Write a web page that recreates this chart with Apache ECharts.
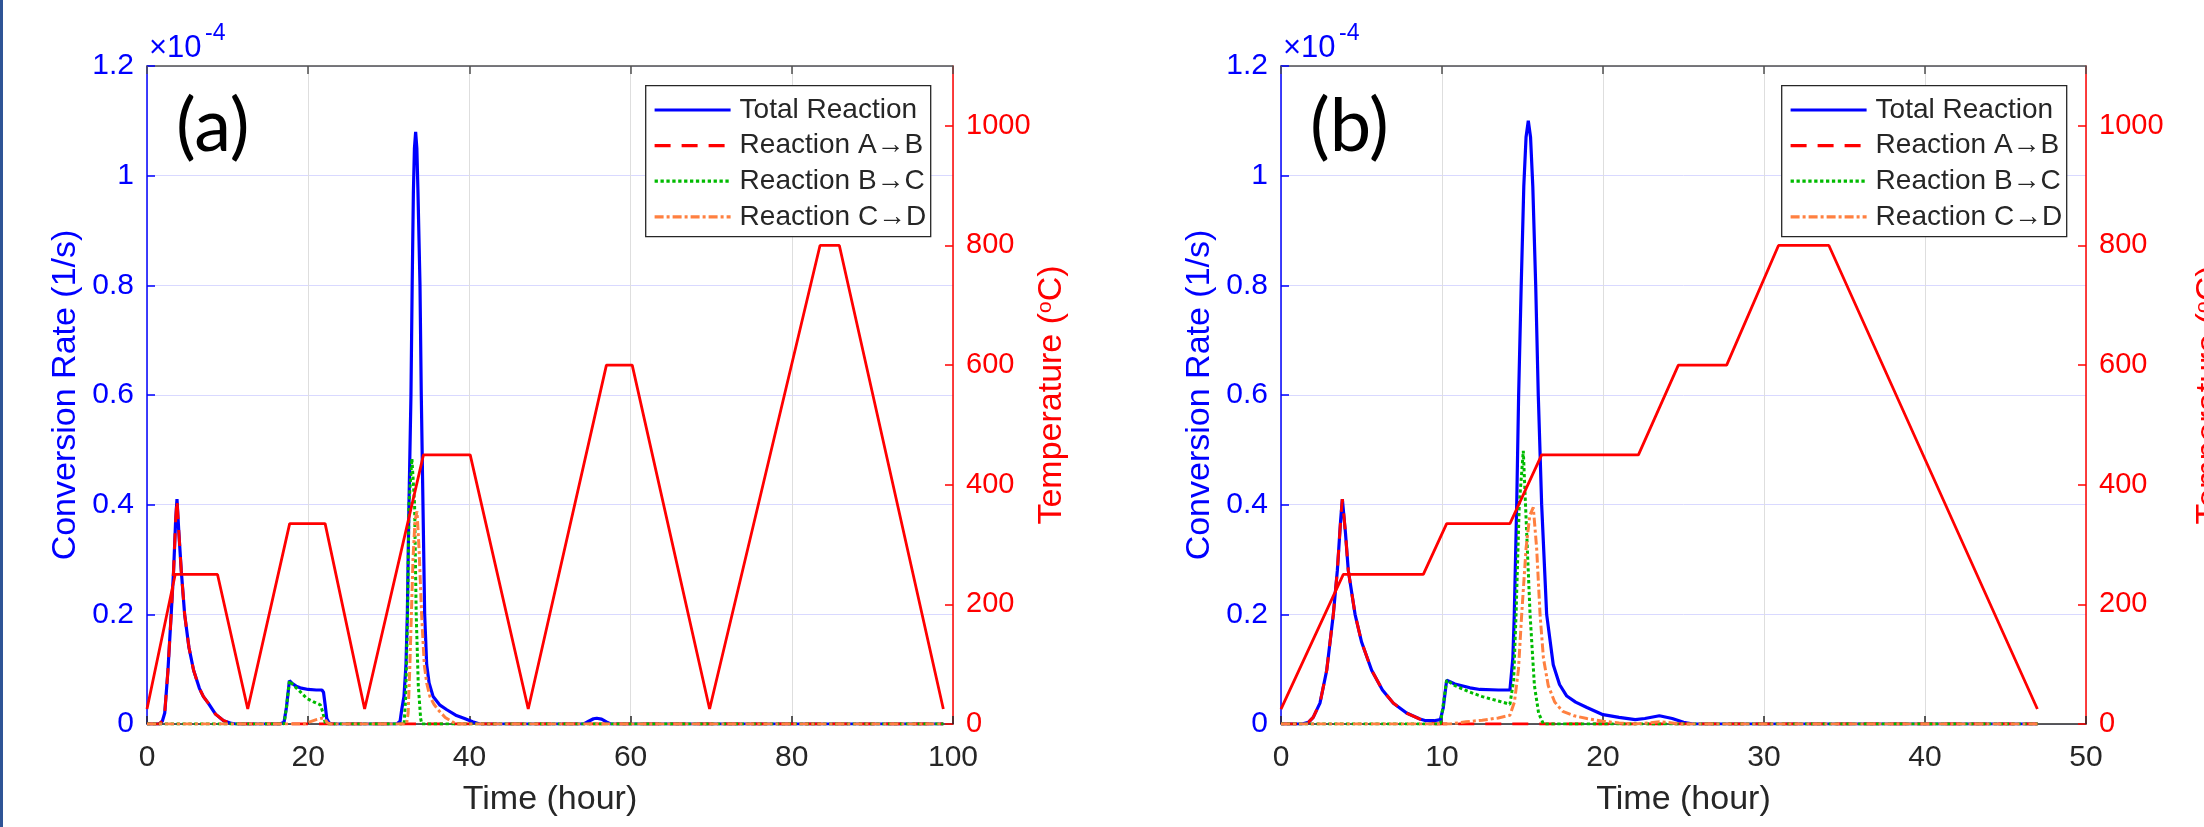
<!DOCTYPE html>
<html><head><meta charset="utf-8">
<script src="https://cdn.jsdelivr.net/npm/echarts@6/dist/echarts.min.js"></script>
<style>html,body{margin:0;padding:0;background:#fff;overflow:hidden}#c{width:2204px;height:827px}</style>
</head><body><div id="c"></div>
<script>
// ---------- data (time in hours, conversion rate in units of 1e-4 1/s, temperature in degC) ----------
const seriesNames = ['Total Reaction', 'Reaction A\u2192B', 'Reaction B\u2192C', 'Reaction C\u2192D'];
const yLeftTicks = [0, 0.2, 0.4, 0.6, 0.8, 1, 1.2];
const yRightTicks = [0, 200, 400, 600, 800, 1000];
const xTicksA = [0, 20, 40, 60, 80, 100];
const xTicksB = [0, 10, 20, 30, 40, 50];

// panel (a)
const totalA = [[0,0],[1.5,0],[1.9,0.005],[2.2,0.02],[2.6,0.098],[3.0,0.2],[3.3,0.28],[3.55,0.37],[3.72,0.41],[3.95,0.35],[4.25,0.28],[4.67,0.2],[5.2,0.14],[5.78,0.098],[6.5,0.065],[7.0,0.05],[7.6,0.038],[8.5,0.018],[9.5,0.006],[10.5,0.001],[11,0],
 [16.5,0],[17.0,0.003],[17.3,0.03],[17.67,0.079],[18.0,0.074],[18.5,0.069],[19.0,0.066],[20.0,0.063],[21.0,0.062],[21.7,0.062],[21.9,0.058],[22.1,0.035],[22.3,0.01],[22.6,0.002],[23,0],
 [31,0],[31.4,0.005],[31.6,0.026],[31.88,0.05],[32.13,0.108],[32.3,0.2],[32.5,0.4],[32.75,0.6],[32.9,0.8],[33.05,0.97],[33.18,1.05],[33.33,1.08],[33.48,1.05],[33.62,0.97],[33.87,0.8],[34.03,0.6],[34.24,0.4],[34.45,0.2],[34.7,0.108],[35.0,0.075],[35.5,0.05],[36.3,0.035],[37.2,0.026],[38.3,0.016],[39.4,0.01],[40.4,0.004],[41.3,0],
 [54.2,0],[54.8,0.005],[55.4,0.0095],[55.8,0.0105],[56.4,0.009],[57.0,0.004],[57.5,0],[98.8,0]];
const abA = [[0,0],[1.5,0],[1.9,0.005],[2.2,0.02],[2.6,0.098],[3.0,0.2],[3.3,0.28],[3.55,0.37],[3.72,0.41],[3.95,0.35],[4.25,0.28],[4.67,0.2],[5.2,0.14],[5.78,0.098],[6.5,0.065],[7.0,0.05],[7.6,0.038],[8.5,0.018],[9.5,0.006],[10.5,0.001],[11,0],[98.8,0]];
const bcA = [[0,0],[17.0,0],[17.3,0.03],[17.67,0.079],[18.2,0.07],[19.0,0.059],[19.8,0.047],[20.6,0.041],[21.5,0.035],[21.8,0.022],[22.1,0.003],[22.4,0],
 [31.9,0],[32.1,0.05],[32.33,0.2],[32.5,0.4],[32.87,0.484],[33.2,0.4],[33.4,0.2],[33.66,0.07],[33.95,0.01],[34.1,0],[98.8,0]];
const cdA = [[0,0],[19.5,0],[20.2,0.004],[21.0,0.008],[21.8,0.011],[22.1,0.008],[22.4,0.002],[22.8,0],
 [32.2,0],[32.4,0.02],[32.6,0.1],[32.8,0.2],[33.0,0.3],[33.25,0.37],[33.5,0.388],[33.75,0.32],[34.07,0.2],[34.4,0.108],[34.7,0.075],[35.1,0.05],[35.6,0.036],[36.1,0.026],[37.0,0.012],[38.0,0.003],[38.5,0],[98.8,0]];
const tempTimeA = [0, 3.5, 8.75, 12.5, 17.7, 22.1, 27.0, 34.3, 40.1, 47.3, 57.0, 60.2, 69.8, 83.5, 85.9, 98.8];
const tempA     = [25, 250, 250, 25, 335, 335, 25, 450, 450, 25, 600, 600, 25, 800, 800, 25];

// panel (b)
const totalB = [[0,0],[1.3,0],[1.7,0.003],[2.0,0.012],[2.42,0.038],[2.84,0.098],[3.25,0.2],[3.5,0.28],[3.7,0.37],[3.81,0.41],[4.0,0.35],[4.18,0.28],[4.6,0.2],[5.0,0.15],[5.63,0.098],[6.3,0.062],[6.98,0.038],[7.8,0.02],[8.63,0.009],[9.0,0.006],[9.5,0.006],[9.9,0.008],
 [10.08,0.03],[10.29,0.08],[10.8,0.073],[11.74,0.066],[12.36,0.063],[13.5,0.062],[14.22,0.062],[14.4,0.12],[14.49,0.2],[14.64,0.4],[14.76,0.6],[14.92,0.8],[15.08,0.98],[15.22,1.07],[15.36,1.1],[15.5,1.07],[15.64,0.98],[15.82,0.8],[15.98,0.6],[16.19,0.4],[16.5,0.2],[16.91,0.108],[17.3,0.072],[17.75,0.051],[18.3,0.04],[19.0,0.03],[20.0,0.017],[21.0,0.012],[22.0,0.008],[22.6,0.01],[23.5,0.015],[24.3,0.01],[25.0,0.003],[25.6,0],[47,0]];
const abB = [[0,0],[1.3,0],[1.7,0.003],[2.0,0.012],[2.42,0.038],[2.84,0.098],[3.25,0.2],[3.5,0.28],[3.7,0.37],[3.81,0.41],[4.0,0.35],[4.18,0.28],[4.6,0.2],[5.0,0.15],[5.63,0.098],[6.3,0.062],[6.98,0.038],[7.8,0.02],[8.63,0.009],[9.2,0.002],[9.6,0],[47,0]];
const bcB = [[0,0],[9.9,0],[10.1,0.04],[10.29,0.08],[10.8,0.07],[11.74,0.058],[12.5,0.05],[13.5,0.042],[14.22,0.036],[14.45,0.08],[14.6,0.2],[14.8,0.4],[15.05,0.498],[15.3,0.32],[15.47,0.2],[15.74,0.07],[16.0,0.02],[16.3,0],[47,0]];
const cdB = [[0,0],[10.5,0],[11.5,0.004],[12.5,0.007],[13.5,0.011],[14.22,0.016],[14.5,0.04],[14.75,0.1],[14.95,0.2],[15.22,0.32],[15.45,0.38],[15.67,0.395],[15.88,0.32],[16.09,0.2],[16.3,0.12],[16.6,0.07],[17.0,0.04],[17.5,0.023],[18.2,0.015],[19.0,0.01],[20,0.005],[21,0.002],[22,0],[22.8,0.002],[23.5,0.004],[24.3,0.002],[25,0],[47,0]];
const tempTimeB = [0, 3.87, 8.84, 10.29, 14.22, 16.19, 22.2, 24.68, 27.68, 30.9, 34.03, 46.98];
const tempB     = [25, 250, 250, 335, 335, 450, 450, 600, 600, 800, 800, 25];

// ---------- styling ----------
const FONT = '"Liberation Sans", Arial, Helvetica, sans-serif';
const C_BLUE = '#0000ff', C_RED = '#ff0000', C_GREEN = '#00bb00', C_ORANGE = '#ff8040', C_DARK = '#262626';

const panels = [
  { grid: {left: 147, top: 66, width: 806, height: 658}, xTicks: xTicksA,
    total: totalA, ab: abA, bc: bcA, cd: cdA, tt: tempTimeA, tv: tempA,
    tag: '(a)', tagX: 176, legX: 653, boxX: 645.7, rGap: 80 },
  { grid: {left: 1281, top: 66, width: 805, height: 658}, xTicks: xTicksB,
    total: totalB, ab: abB, bc: bcB, cd: cdB, tt: tempTimeB, tv: tempB,
    tag: '(b)', tagX: 1310, legX: 1789, boxX: 1781.7, rGap: 107 }
];

const option = { animation: false, backgroundColor: '#fff', grid: [], xAxis: [], yAxis: [], series: [], legend: [], graphic: [] };

option.graphic.push({ type: 'rect', shape: {x: 0, y: 0, width: 3, height: 827}, style: {fill: '#2f5496'}, z: 10 });

panels.forEach((p, i) => {
  const xt = p.xTicks;
  const xInt = xt[1] - xt[0];
  option.grid.push(Object.assign({ containLabel: false, outerBoundsMode: 'none' }, p.grid));
  option.xAxis.push({
    gridIndex: i, type: 'value', min: xt[0], max: xt[xt.length - 1], interval: xInt, position: 'bottom',
    name: 'Time (hour)', nameLocation: 'middle', nameGap: 59,
    nameTextStyle: { fontFamily: FONT, fontSize: 34, color: C_DARK },
    axisLine: { show: true, onZero: false, lineStyle: { color: C_DARK, width: 1.5 } },
    axisTick: { show: true, inside: true, length: 8, lineStyle: { color: C_DARK, width: 1.5 } },
    axisLabel: { fontFamily: FONT, fontSize: 30, color: C_DARK, margin: 19 },
    splitLine: { show: true, lineStyle: { color: '#dedede', width: 1 } }
  });
  option.xAxis.push({
    gridIndex: i, type: 'value', min: xt[0], max: xt[xt.length - 1], interval: xInt, position: 'top',
    axisLine: { show: true, onZero: false, lineStyle: { color: '#505050', width: 1.5 } },
    axisTick: { show: true, inside: true, length: 8, lineStyle: { color: '#505050', width: 1.5 } },
    axisLabel: { show: false }, splitLine: { show: false }
  });
  option.yAxis.push({
    gridIndex: i, type: 'value', min: yLeftTicks[0], max: yLeftTicks[yLeftTicks.length - 1], interval: yLeftTicks[1] - yLeftTicks[0], position: 'left',
    name: 'Conversion Rate (1/s)', nameLocation: 'middle', nameRotate: 90, nameGap: 64,
    nameTextStyle: { fontFamily: FONT, fontSize: 34, color: C_BLUE },
    axisLine: { show: true, onZero: false, lineStyle: { color: C_BLUE, width: 1.5 } },
    axisTick: { show: true, inside: true, length: 8, lineStyle: { color: C_BLUE, width: 1.5 } },
    axisLabel: { fontFamily: FONT, fontSize: 30, color: C_BLUE, margin: 13 },
    splitLine: { show: true, lineStyle: { color: '#d9d9ff', width: 1 } }
  });
  option.yAxis.push({
    gridIndex: i, type: 'value', min: yRightTicks[0], max: 1100, interval: yRightTicks[1] - yRightTicks[0], position: 'right',
    name: 'Temperature ({s|o}C)', nameLocation: 'middle', nameRotate: 90, nameGap: p.rGap,
    nameTextStyle: { fontFamily: FONT, fontSize: 34, color: C_RED,
      rich: { s: { fontFamily: FONT, fontSize: 21, color: C_RED, verticalAlign: 'top' } } },
    axisLine: { show: true, onZero: false, lineStyle: { color: C_RED, width: 1.5 } },
    axisTick: { show: true, inside: true, length: 8, lineStyle: { color: C_RED, width: 1.5 } },
    axisLabel: { fontFamily: FONT, fontSize: 29, color: C_RED, margin: 13, showMaxLabel: false,
      formatter: v => (yRightTicks.indexOf(v) >= 0 ? String(v) : '') },
    splitLine: { show: false }
  });

  const xi = 2 * i, yl = 2 * i, yr = 2 * i + 1;
  const base = { type: 'line', xAxisIndex: xi, symbol: 'none', showSymbol: false, clip: true, z: 2 };
  option.series.push(Object.assign({}, base, { name: seriesNames[0], yAxisIndex: yl, data: p.total,
    lineStyle: { color: C_BLUE, width: 3.2, type: 'solid' }, itemStyle: { color: C_BLUE } }));
  option.series.push(Object.assign({}, base, { name: seriesNames[1], yAxisIndex: yl, data: p.ab,
    lineStyle: { color: C_RED, width: 3, type: [16, 11] }, itemStyle: { color: C_RED } }));
  option.series.push(Object.assign({}, base, { name: seriesNames[2], yAxisIndex: yl, data: p.bc,
    lineStyle: { color: C_GREEN, width: 3, type: [3.3, 2.6] }, itemStyle: { color: C_GREEN } }));
  option.series.push(Object.assign({}, base, { name: seriesNames[3], yAxisIndex: yl, data: p.cd,
    lineStyle: { color: C_ORANGE, width: 3, type: [9, 3, 3, 3] }, itemStyle: { color: C_ORANGE } }));
  option.series.push(Object.assign({}, base, { name: 'Temperature', yAxisIndex: yr,
    data: p.tt.map((t, k) => [t, p.tv[k]]),
    lineStyle: { color: C_RED, width: 2.8, type: 'solid' }, itemStyle: { color: C_RED } }));

  option.legend.push({
    left: p.legX, top: 95, orient: 'vertical', padding: 0, itemWidth: 76, itemHeight: 20, itemGap: 5.6,
    selectedMode: false, data: seriesNames, z: 6,
    itemStyle: { opacity: 0, borderWidth: 0 },
    lineStyle: { width: 3.2 },
    textStyle: { fontFamily: FONT, fontSize: 28, color: C_DARK, lineHeight: 30, padding: [0, 0, 0, 4] }
  });

  option.graphic.push({ type: 'rect', z: 3, shape: { x: p.boxX, y: 85.7, width: 285, height: 151 },
    style: { fill: '#fff', stroke: C_DARK, lineWidth: 1.3 } });
  option.graphic.push({ type: 'text', z: 5, x: p.tagX, y: 127,
    style: { text: p.tag, fontFamily: 'Lato', fontSize: 74, fill: '#000', verticalAlign: 'middle', align: 'left' } });
  const ax = p.grid.left;
  option.graphic.push({ type: 'text', z: 5, x: ax + 2, y: 48,
    style: { text: '\u00d710', fontFamily: FONT, fontSize: 31, fill: C_BLUE, verticalAlign: 'middle', align: 'left' } });
  option.graphic.push({ type: 'text', z: 5, x: ax + 58, y: 34,
    style: { text: '-4', fontFamily: FONT, fontSize: 23, fill: C_BLUE, verticalAlign: 'middle', align: 'left' } });
});

const chart = echarts.init(document.getElementById('c'), null, { renderer: 'canvas', width: 2204, height: 827 });
chart.setOption(option);
</script>
</body></html>
